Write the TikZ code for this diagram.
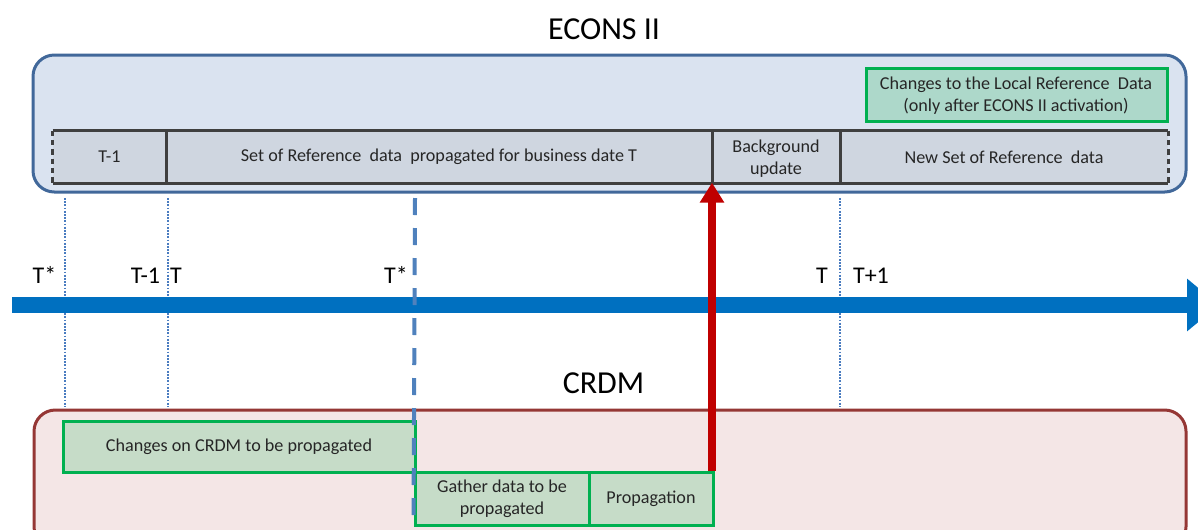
\documentclass[tikz,border=0pt]{standalone}
\usepackage{fontspec}
\setmainfont{Carlito}
\usetikzlibrary{fit,arrows.meta}
\definecolor{econsfill}{HTML}{DAE3F0}
\definecolor{econsdraw}{HTML}{41689A}
\definecolor{cellfill}{HTML}{CFD6E0}
\definecolor{celldraw}{HTML}{3F3F3F}
\definecolor{tealfill}{HTML}{ADD8CA}
\definecolor{greendraw}{HTML}{00B050}
\definecolor{greenfill}{HTML}{C6DCC8}
\definecolor{crdmfill}{HTML}{F4E6E6}
\definecolor{crdmdraw}{HTML}{953735}
\definecolor{timeblue}{HTML}{0070C0}
\definecolor{dotblue}{HTML}{4A7CC0}
\definecolor{dashblue}{HTML}{4F81BD}
\definecolor{arrowred}{HTML}{C00000}
\definecolor{textgray}{HTML}{262626}
\begin{document}
\begin{tikzpicture}[x=0.75pt,y=-0.75pt,
  small/.style={font=\fontsize{13.6}{16.3}\selectfont, text=textgray, align=center, inner sep=0pt},
  title/.style={font=\fontsize{24}{28}\selectfont, anchor=base},
  tlabel/.style={font=\fontsize{18}{22}\selectfont, anchor=base},
  econsbox/.style={draw=econsdraw, fill=econsfill, line width=2.25pt, rounded corners=16pt, inner sep=0pt},
  crdmbox/.style={draw=crdmdraw, fill=crdmfill, line width=2.25pt, rounded corners=16pt, inner sep=0pt},
  cellbox/.style={fill=cellfill, inner sep=0pt},
  cellline/.style={draw=celldraw, line width=2.6pt},
  cellend/.style={draw=celldraw, line width=2.6pt, dash pattern=on 4pt off 3pt},
  greenbox/.style={draw=greendraw, fill=greenfill, line width=2.25pt, inner sep=0pt},
  tealbox/.style={draw=greendraw, fill=tealfill, line width=2.25pt, inner sep=0pt},
  dotline/.style={draw=dotblue, line width=1.8pt, dash pattern=on 1.4pt off 1pt},
  dashline/.style={draw=dashblue, line width=3pt, dash pattern=on 12.75pt off 9.75pt},
  timeline/.style={draw=timeblue, line width=12pt, -{Triangle[length=24pt,width=38pt]}},
  redarrow/.style={draw=arrowred, line width=6pt, -{Triangle[length=15pt,width=17.5pt]}, shorten >=-1pt}
]
\path[use as bounding box, fill=white] (0,0) rectangle (1198,529);
\clip (0,0) rectangle (1198,529);

% titles
\node[title] (econsT) at (604,39) {ECONS II};
\node[title] (crdmT) at (603.5,393) {CRDM};

% ECONS box
\node[econsbox, fit={(33,55)(1186,192)}] (econs) {};
\node[tealbox, fit={(866,68)(1167,121)}] (local) {};
\node[small] (localT) at (1016,96) {Changes to the Local Reference\ \ Data\\(only after ECONS II activation)};

% cells
\node[cellbox, fit={(53,131)(166,183)}] (tm1) {};
\node[cellbox, fit={(166,131)(712,183)}] (setref) {};
\node[cellbox, fit={(712,131)(840,183)}] (bg) {};
\node[cellbox, fit={(840,131)(1168,183)}] (newset) {};
\node[small] (tm1T) at (tm1.center) {T-1};
\node[small] (setrefT) at (setref.center) {Set of Reference\ \ data\ \ propagated for business date T};
\node[small] (bgT) at ([yshift=-1.5pt]bg.center) {Background\\update};
\node[small] (newsetT) at (newset.center) {New Set of Reference\ \ data};
\draw[cellline] (tm1.north west) -- (newset.north east);
\draw[cellline] (tm1.south west) -- (newset.south east);
\draw[cellline] (tm1.north east) -- (tm1.south east);
\draw[cellline] (setref.north east) -- (setref.south east);
\draw[cellline] (bg.north east) -- (bg.south east);
\draw[cellend] (tm1.north west) -- (tm1.south west);
\draw[cellend] (newset.north east) -- (newset.south east);

% CRDM box
\node[crdmbox, fit={(34,410)(1186,548)}] (crdm) {};
\node[greenbox, fit={(63,421)(415,472)}] (chg) {};
\node[greenbox, fit={(415,472)(589,525)}] (gather) {};
\node[greenbox, fit={(589,472)(713,525)}] (prop) {};
\node[small] (chgT) at (chg.center) {Changes on CRDM to be propagated};
\node[small] (gatherT) at (gather.center) {Gather data to be\\propagated};
\node[small] (propT) at (prop.center) {Propagation};

% dotted vertical lines
\coordinate (d1a) at (65,198); \coordinate (d1b) at (65,407);
\coordinate (d2a) at (168,198); \coordinate (d2b) at (168,407);
\coordinate (d3a) at (840,198); \coordinate (d3b) at (840,407);
\draw[dotline] (d1a) -- (d1b);
\draw[dotline] (d2a) -- (d2b);
\draw[dotline] (d3a) -- (d3b);

% timeline
\coordinate (tlstart) at (12,305);
\coordinate (tlend) at (1219,305);
\draw[timeline] (tlstart) -- (tlend);

% dashed T* line
\coordinate (dsa) at (415,198);
\draw[dashline] (dsa) -- (gather.south west);

% timeline labels
\node[tlabel] (l1) at (44.5,283) {T*};
\node[tlabel] (l2) at (145.5,283) {T-1};
\node[tlabel] (l3) at (176,283) {T};
\node[tlabel] (l4) at (396,283) {T*};
\node[tlabel] (l5) at (822,283) {T};
\node[tlabel] (l6) at (871,283) {T+1};

% red arrow
\coordinate (rs) at (712,471);
\coordinate (re) at (712,184);
\draw[redarrow] (rs) -- (re);
\end{tikzpicture}
\end{document}
